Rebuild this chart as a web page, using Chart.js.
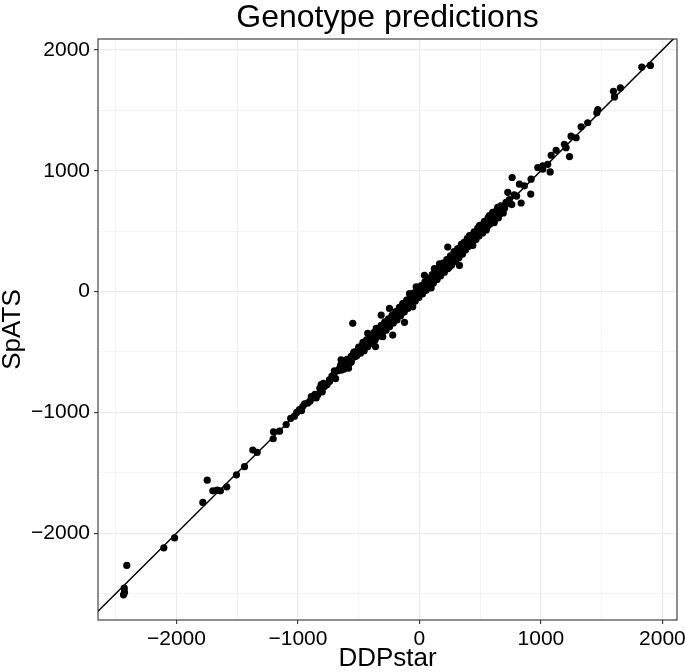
<!DOCTYPE html>
<html>
<head>
<meta charset="utf-8">
<script src="https://cdn.jsdelivr.net/npm/chart.js@4.4.1/dist/chart.umd.min.js"></script>
<style>
  html, body { margin: 0; padding: 0; background: #fff; }
  canvas { display: block; }
</style>
</head>
<body>
<canvas id="chart" width="685" height="672"></canvas>
<script>
// Genotype predictions: DDPstar (x) vs SpATS (y)
const ddpstar = [
  -2428, -2430, -2436, -2409, -2104, -2016, -1783, -1747, -1701, -1665, -1638, -1586, -1506, -1440, -1372, -1336, -1204,
  -1202, -1152, -1097, -1029, -988, -960, -919, -878, -837, -809, -782, -741, -700, -645, -617, -584, -549, -562, -521,
  -494, -467, -426, -412, -362, -356, -315, -302, -220, -247, -123, -137, -55, -55,
  -82, -27, 41, 96, 123, 165, 233, 247, 329, 302, 356, 412, 439, 494, 549, 576, 617, 658, 727, 837,
  603, 644, 713, 727, 763, 823, 864, 919, 916, 974, 1015, 1015, 1076, 1056, 1084, 1125, 1193, 1235, 1248, 1290, 1207,
  1331, 1385, 1468, 1460, 1597, 1605, 1654, 1830, 1901,
  -1060, -1010, -970, -945, -900, -890, -860, -850, -820, -800, -790, -760, -740, -720, -705, -690, -670, -660, -640,
  -630, -610, -600, -590, -575, -560, -545, -530, -520, -505, -495, -480, -470, -460, -450, -440, -430, -420, -410,
  -400, -390, -380, -370, -360, -350, -340, -330, -320, -310, -300, -290, -280, -270, -260, -250, -240, -230, -220,
  -210, -200, -190, -180, -170, -160, -150, -140, -130, -120, -110, -100, -90, -80, -70, -60, -50, -40, -30, -20, -10,
  0, 10, 20, 30, 40, 50, 60, 70, 80, 90, 100, 110, 120, 130, 140, 150, 160, 170, 180, 190, 200, 210, 220, 230, 240,
  250, 260, 270, 280, 290, 300, 310, 320, 330, 340, 350, 360, 375, 390, 400, 415, 430, 445, 460, 470, 485, 500, 515,
  530, 545, 560, 575, 590, 610, 625, 640, 660, 680, 700,
  -650, -620, -595, -570, -555, -540, -515, -500, -485, -465, -455, -435, -425, -405, -395, -375, -365, -345, -335,
  -315, -305, -285, -275, -255, -245, -225, -215, -195, -185, -165, -155, -135, -125, -105, -95, -75, -65, -45, -35,
  -15, -5, 15, 25, 45, 55, 75, 85, 105, 115, 135, 145, 165, 175, 195, 205, 225, 235, 255, 265, 285, 295, 315, 325,
  345, 355, 370, 380, 395, 405, 425, 435, 450, 465, 480, 490, 505, 520, 535, 550, 565, 580, 600, 615, 635, 650, 670,
  690, 710, 740, 760, 780, 800
];
const spats = [
  -2490, -2455, -2510, -2266, -2121, -2039, -1745, -1561, -1649, -1644, -1649, -1616, -1517, -1449, -1311, -1331, -1218,
  -1160, -1155, -1100, -1031, -977, -949, -922, -881, -853, -771, -785, -730, -656, -565, -620, -634, -263, -537, -496,
  -469, -442, -346, -387, -455, -305, -195, -373, -360, -140, -255, -99, -72, -126,
  -16, 39, 134, 30, 189, 230, 368, 203, 216, 327, 395, 463, 381, 546, 519, 628, 587, 683, 738, 733,
  656, 697, 738, 821, 944, 889, 875, 930, 807, 1026, 1012, 1040, 990, 1053, 1128, 1169, 1218, 1117, 1286, 1273, 1191,
  1364, 1397, 1506, 1479, 1657, 1611, 1685, 1858, 1871,
  -1050, -1000, -985, -930, -905, -870, -850, -880, -800, -830, -760, -770, -745, -700, -690, -720, -655, -640, -650,
  -600, -590, -615, -570, -560, -580, -520, -540, -505, -480, -500, -470, -450, -475, -430, -445, -420, -400, -430,
  -385, -395, -360, -380, -340, -355, -320, -345, -300, -315, -290, -270, -300, -260, -250, -270, -230, -215, -240,
  -200, -190, -210, -175, -160, -185, -140, -125, -150, -110, -95, -120, -80, -60, -90, -45, -30, -55, -20, -5, -25,
  10, 20, 0, 40, 55, 30, 70, 80, 60, 100, 115, 90, 130, 145, 120, 160, 175, 150, 190, 205, 180, 220, 240, 210, 250,
  265, 245, 280, 300, 275, 315, 330, 300, 345, 360, 335, 380, 390, 370, 420, 430, 410, 460, 480, 455, 500, 520, 500,
  545, 560, 540, 600, 605, 590, 640, 650, 640, 700, 690,
  -610, -640, -560, -590, -545, -500, -530, -460, -510, -420, -490, -400, -455, -370, -420, -340, -400, -310, -370,
  -280, -340, -250, -320, -225, -290, -195, -260, -165, -235, -130, -200, -100, -170, -70, -140, -40, -110, -10, -80,
  20, -50, 50, -20, 80, 10, 110, 40, 140, 70, 170, 100, 200, 130, 235, 160, 265, 190, 295, 220, 330, 250, 355, 280,
  390, 310, 410, 345, 440, 375, 465, 400, 495, 430, 525, 460, 550, 485, 580, 510, 610, 560, 640, 570, 670, 610, 710,
  650, 720, 760, 720, 800, 790
];
// identity line y = x
const refLine = [-3000, 2500];

const xLimits = [-2646, 2120];
const yLimits = [-2718, 2090];
// major (labelled) and minor grid positions
const xTicks = [-2500, -2000, -1500, -1000, -500, 0, 500, 1000, 1500, 2000];
const yTicks = [-2500, -2000, -1500, -1000, -500, 0, 500, 1000, 1500, 2000];

const FONT = '"Liberation Sans", Arial, Helvetica, sans-serif';

const points = ddpstar.map((x, i) => ({ x: x, y: spats[i] }));
const linePts = refLine.map(v => ({ x: v, y: v }));

function fmt(v) {
  if (v % 1000 !== 0) return '';
  return v < 0 ? '\u2212' + Math.abs(v) : String(v);
}

const isMajor = ctx => ctx.tick && ctx.tick.value % 1000 === 0;
const gridOpts = {
  color: '#EBEBEB',
  lineWidth: ctx => isMajor(ctx) ? 1.2 : 0.6,
  tickColor: ctx => isMajor(ctx) ? '#333333' : 'rgba(0,0,0,0)',
  tickWidth: 1.1,
  tickLength: 4,
  drawTicks: true
};

// panel border + plot title
const framePlugin = {
  id: 'frame',
  afterDraw(chart) {
    const { ctx, chartArea: a } = chart;
    ctx.save();
    ctx.strokeStyle = '#333333';
    ctx.lineWidth = 1.1;
    ctx.strokeRect(a.left, a.top, a.right - a.left, a.bottom - a.top);
    ctx.fillStyle = '#000';
    ctx.font = '32px ' + FONT;
    ctx.textAlign = 'center';
    ctx.textBaseline = 'alphabetic';
    ctx.fillText('Genotype predictions', (a.left + a.right) / 2, 27);
    ctx.restore();
  }
};

new Chart(document.getElementById('chart').getContext('2d'), {
  type: 'scatter',
  data: {
    datasets: [
      {
        type: 'line', data: linePts, borderColor: '#000', borderWidth: 1.5,
        pointRadius: 0, fill: false, tension: 0
      },
      {
        data: points, backgroundColor: '#000', borderColor: '#000', borderWidth: 0,
        pointRadius: 3.6, pointHoverRadius: 3.6
      }
    ]
  },
  options: {
    responsive: false,
    animation: false,
    layout: { padding: { top: 39, right: 8, bottom: 0, left: 0 } },
    plugins: { legend: { display: false }, tooltip: { enabled: false }, title: { display: false } },
    scales: {
      x: {
        type: 'linear', min: xLimits[0], max: xLimits[1],
        grid: gridOpts,
        border: { display: false },
        afterBuildTicks(s) { s.ticks = xTicks.map(v => ({ value: v })); },
        ticks: {
          autoSkip: false, maxRotation: 0, padding: 3,
          color: '#000', font: { family: FONT, size: 21 }, callback: fmt
        },
        title: { display: true, text: 'DDPstar', color: '#000', font: { family: FONT, size: 26, lineHeight: 1 }, padding: 0 },
        afterFit(s) { s.height = 52; s.paddingLeft = 0; s.paddingRight = 0; }
      },
      y: {
        type: 'linear', min: yLimits[0], max: yLimits[1],
        grid: gridOpts,
        border: { display: false },
        afterBuildTicks(s) { s.ticks = yTicks.map(v => ({ value: v })); },
        ticks: {
          autoSkip: false, padding: 4,
          color: '#000', font: { family: FONT, size: 21 }, callback: fmt
        },
        title: { display: true, text: 'SpATS', color: '#000', font: { family: FONT, size: 26, lineHeight: 1 }, padding: 0 },
        afterFit(s) { s.width = 98; s.paddingTop = 0; s.paddingBottom = 0; }
      }
    }
  },
  plugins: [framePlugin]
});
</script>
</body>
</html>
